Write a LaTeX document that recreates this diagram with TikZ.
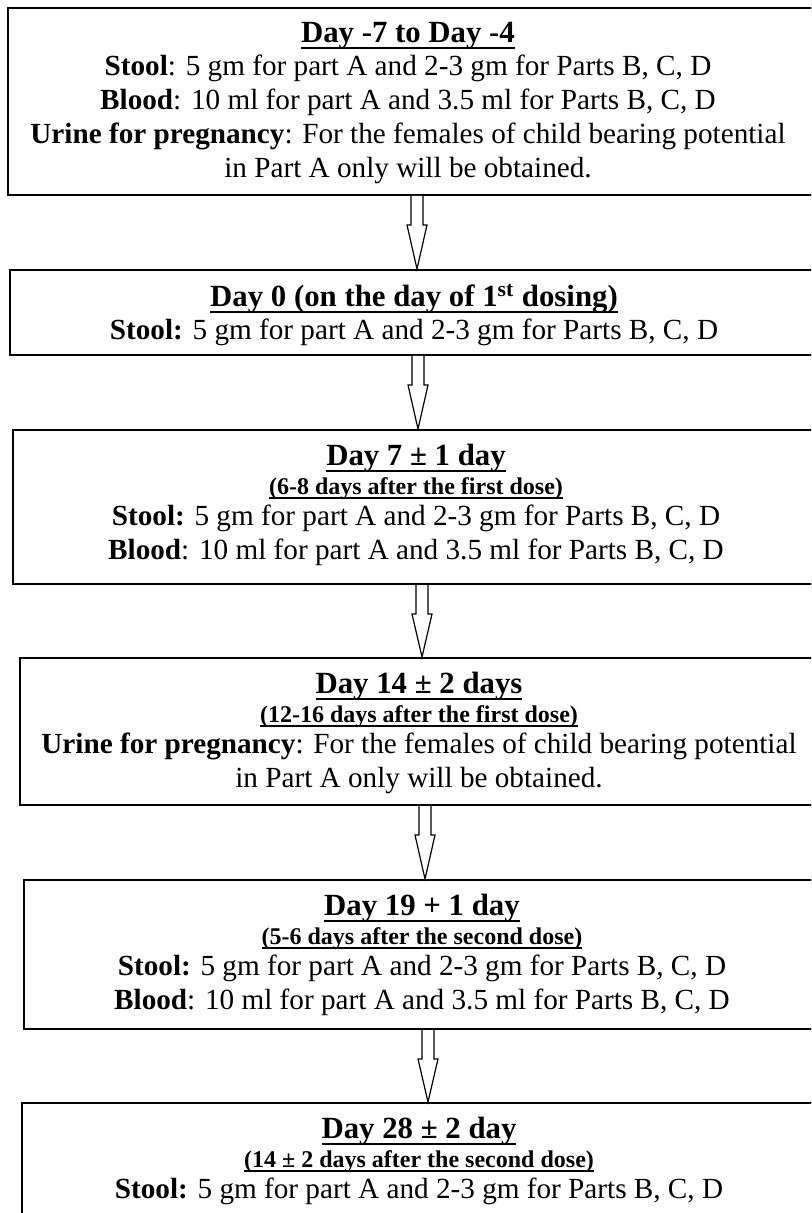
\documentclass[tikz,border=0pt]{standalone}
\usepackage{fontspec}
\setmainfont{Liberation Serif}
\usetikzlibrary{calc}
\newcommand{\ulbar}[1]{\setbox0\hbox{#1}\rlap{\rule[-0.2em]{\wd0}{0.075em}}\box0}
\newcommand{\dayhead}[1]{{\fontsize{15.4}{16.9}\selectfont\bfseries\ulbar{#1}}}
\newcommand{\daysub}[1]{{\fontsize{12}{16.9}\selectfont\bfseries\ulbar{#1}}}
\tikzset{
  daybox/.style={draw=black, line width=1pt, anchor=north west, inner sep=0pt},
  daytext/.style={anchor=north, align=center, inner sep=0pt,
    font=\fontsize{14.6}{16.9}\selectfont},
  hollowarr/.style={draw=black, fill=white, line width=0.6pt, line join=miter},
}
\begin{document}
\begin{tikzpicture}[x=0.5pt, y=-0.5pt]
  \useasboundingbox (0,0) rectangle (811,1213);
  \clip (0,0) rectangle (811,1213);
  % ======================= day -7 to -4 =======================
  \node[daybox, minimum width=416.5pt, minimum height=93.5pt] (b1) at (7,7) {};
  \node[daytext] (t1) at (408,22) {\dayhead{Day -7 to Day -4}\\[-0.4pt]
    \textbf{Stool}: 5 gm for part A and 2-3 gm for Parts B, C, D\\
    \textbf{Blood}: 10 ml for part A and 3.5 ml for Parts B, C, D\\
    \textbf{Urine for pregnancy}: For the females of child bearing potential\\
    in Part A only will be obtained.};
  % ======================= day 0 =======================
  \node[daybox, minimum width=415.5pt, minimum height=42.5pt] (b2) at (9,269) {};
  \node[daytext] (t2) at (414,284) {\dayhead{Day 0 (on the day of 1\textsuperscript{st} dosing)}\\[-0.4pt]
    \textbf{Stool:} 5 gm for part A and 2-3 gm for Parts B, C, D};
  % ======================= day 7 =======================
  \node[daybox, minimum width=414pt, minimum height=77pt] (b3) at (12,429) {};
  \node[daytext] (t3) at (416,444) {\dayhead{Day 7 ± 1 day}\\[-2.6pt]
    \daysub{(6-8 days after the first dose)}\\[-1.2pt]
    \textbf{Stool:} 5 gm for part A and 2-3 gm for Parts B, C, D\\
    \textbf{Blood}: 10 ml for part A and 3.5 ml for Parts B, C, D};
  % ======================= day 14 =======================
  \node[daybox, minimum width=410.5pt, minimum height=73.5pt] (b4) at (19,657) {};
  \node[daytext] (t4) at (419,672) {\dayhead{Day 14 ± 2 days}\\[-2.6pt]
    \daysub{(12-16 days after the first dose)}\\[-1.2pt]
    \textbf{Urine for pregnancy}: For the females of child bearing potential\\
    in Part A only will be obtained.};
  % ======================= day 19 =======================
  \node[daybox, minimum width=408.5pt, minimum height=74.5pt] (b5) at (23,879) {};
  \node[daytext] (t5) at (422,894) {\dayhead{Day 19 + 1 day}\\[-2.6pt]
    \daysub{(5-6 days after the second dose)}\\[-1.2pt]
    \textbf{Stool:} 5 gm for part A and 2-3 gm for Parts B, C, D\\
    \textbf{Blood}: 10 ml for part A and 3.5 ml for Parts B, C, D};
  % ======================= day 28 =======================
  \node[daybox, minimum width=409.5pt, minimum height=69pt] (b6) at (21,1102) {};
  \node[daytext] (t6) at (419,1117) {\dayhead{Day 28 ± 2 day}\\[-2.6pt]
    \daysub{(14 ± 2 days after the second dose)}\\[-1.2pt]
    \textbf{Stool:} 5 gm for part A and 2-3 gm for Parts B, C, D};
  % hollow arrows between the boxes
  \foreach \a/\b/\x in {b1/b2/417, b2/b3/418, b3/b4/422, b4/b5/425, b5/b6/428}{
    \coordinate (ax) at (\x,0);
    \coordinate (s) at (\a.south -| ax);
    \coordinate (e) at (\b.north -| ax);
    \draw[hollowarr] ($(s)+(-6,0)$) -- ($(s)+(-6,29)$) -- ($(s)+(-10,29)$) -- (e)
      -- ($(s)+(10,29)$) -- ($(s)+(6,29)$) -- ($(s)+(6,0)$);
  }
\end{tikzpicture}
\end{document}
